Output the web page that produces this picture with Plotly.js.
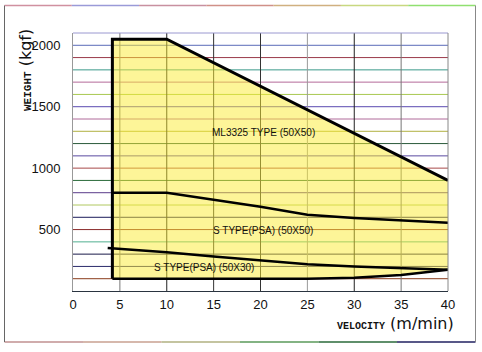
<!DOCTYPE html>
<html><head><meta charset="utf-8">
<script src="https://cdn.plot.ly/plotly-3.0.1.min.js"></script>
<style>html,body{margin:0;padding:0;background:#fff}#chart{width:482px;height:352px}</style>
</head><body><div id="chart"></div>
<script>
// ---- data ----
const xTickVals = [0, 5, 10, 15, 20, 25, 30, 35, 40];
const xTickText = ['0', '5', '10', '15', '20', '25', '30', '35', '40'];
const yTickVals = [500, 1000, 1500, 2000];
const yTickText = ['500', '1000', '1500', '2000'];

const ml3325X = [4.2, 4.2, 10, 40];
const ml3325Y = [100, 2050, 2050, 900];

const s5050X = [4.2, 10, 20, 25, 30, 40];
const s5050Y = [800, 800, 685, 620, 595, 555];

const s5030UpperX = [3.7, 10, 15, 20, 25, 30, 35, 40];
const s5030UpperY = [350, 315, 280, 248, 218, 200, 187, 173];

const s5030LowerX = [4.2, 25, 30, 35, 40];
const s5030LowerY = [100, 100, 108, 130, 173];

const curveLabels = ['ML3325 TYPE (50X50)', 'S TYPE(PSA) (50X50)', 'S TYPE(PSA) (50X30)'];

// ---- layout helpers ----
const W = 482, H = 352, L = 73, R = 34, T = 33, B = 61;
const pw = W - L - R, ph = H - T - B;
const px2x = p => (p - L) / pw;
const py2y = p => (H - B - p) / ph;

const envX = ml3325X.concat(s5030LowerX.slice().reverse());
const envY = ml3325Y.concat(s5030LowerY.slice().reverse());

const traces = [
  {x: envX, y: envY, mode: 'lines', fill: 'toself', fillcolor: 'rgba(252,236,50,0.5)',
   line: {width: 0}, hoverinfo: 'skip', showlegend: false},
  {x: ml3325X, y: ml3325Y, mode: 'lines', line: {color: '#000', width: 3}, showlegend: false},
  {x: s5050X, y: s5050Y, mode: 'lines', line: {color: '#000', width: 2.5}, showlegend: false},
  {x: s5030UpperX, y: s5030UpperY, mode: 'lines', line: {color: '#000', width: 2.5}, showlegend: false},
  {x: s5030LowerX, y: s5030LowerY, mode: 'lines', line: {color: '#000', width: 2.5}, showlegend: false}
];

// horizontal grid every 100 kgf, scanned colours (top 2000 -> bottom 100)
const hGridColors = ['#5a6ab8','#9a3a4a','#3a9a8a','#b46a9a','#a8c850','#5a4ab0','#b06a9a','#b0b040',
  '#2a5a3a','#5a4aa0','#a84a4a','#2a6a3a','#5a3a8a','#b0c860','#1a1a5a','#8a2a2a','#50b090',
  '#1a1a4a','#2a2a6a','#8a3a1a'];
const shapes = [];
hGridColors.forEach((c, i) => {
  const v = 2000 - i * 100;
  shapes.push({type: 'line', layer: 'below', xref: 'paper', yref: 'y', x0: 0, x1: 1, y0: v, y1: v,
    line: {color: c, width: 1}});
});
const vGridColors = ['#777', '#222', '#333', '#333', '#999', '#222', '#777'];
vGridColors.forEach((c, i) => {
  const v = xTickVals[i + 1];
  shapes.push({type: 'line', layer: 'below', xref: 'x', yref: 'paper', x0: v, x1: v, y0: 0, y1: 1,
    line: {color: c, width: 1}});
});
// plot frame top / right
shapes.push({type: 'line', xref: 'paper', yref: 'paper', x0: 0, x1: 1, y0: 1, y1: 1, line: {color: '#9a98d0', width: 1}});
shapes.push({type: 'line', xref: 'paper', yref: 'paper', x0: 1, x1: 1, y0: 0, y1: 1, line: {color: '#888', width: 1}});
// outer scanned frame
const fx0 = px2x(4.5), fx1 = px2x(475.5), fy0 = py2y(342), fy1 = py2y(5.5);
const topCols = ['#d090a0', '#9a9ad8', '#c890a0', '#d09088', '#d0b080', '#c8d880', '#90e070'];
topCols.forEach((c, i) => {
  const a = fx0 + (fx1 - fx0) * i / topCols.length, b = fx0 + (fx1 - fx0) * (i + 1) / topCols.length;
  shapes.push({type: 'line', xref: 'paper', yref: 'paper', x0: a, x1: b, y0: fy1, y1: fy1, line: {color: c, width: 1.5}});
});
const botCols = ['#c09090', '#c8a090', '#b0b080', '#5a9a5a', '#2a6a3a', '#202060'];
botCols.forEach((c, i) => {
  const a = fx0 + (fx1 - fx0) * i / botCols.length, b = fx0 + (fx1 - fx0) * (i + 1) / botCols.length;
  shapes.push({type: 'line', xref: 'paper', yref: 'paper', x0: a, x1: b, y0: fy0, y1: fy0, line: {color: c, width: 1.5}});
});
shapes.push({type: 'line', xref: 'paper', yref: 'paper', x0: fx0, x1: fx0, y0: fy0, y1: fy1, line: {color: '#666', width: 1}});
shapes.push({type: 'line', xref: 'paper', yref: 'paper', x0: fx1, x1: fx1, y0: fy0, y1: fy1, line: {color: '#888', width: 1}});

const lblFont = {family: 'Liberation Sans, Arial, sans-serif', size: 10, color: '#111'};
const annotations = [
  {text: curveLabels[0], x: 20.35, y: 1290, xref: 'x', yref: 'y', showarrow: false, font: lblFont},
  {text: curveLabels[1], x: 20.3, y: 495, xref: 'x', yref: 'y', showarrow: false, font: lblFont},
  {text: curveLabels[2], x: 14.0, y: 195, xref: 'x', yref: 'y', showarrow: false, font: lblFont},
  {text: '<b><span style="font-family:Liberation Mono;font-size:11px">WEIGHT</span></b> (kgf)',
   x: px2x(25), y: py2y(70), xref: 'paper', yref: 'paper', textangle: -90, showarrow: false,
   xanchor: 'center', yanchor: 'middle', font: {family: 'DejaVu Sans, sans-serif', size: 16, color: '#111'}},
  {text: '<b><span style="font-family:Liberation Mono;font-size:10px">VELOCITY</span></b> (m/min)',
   x: px2x(395), y: py2y(323), xref: 'paper', yref: 'paper', showarrow: false,
   xanchor: 'center', yanchor: 'middle', font: {family: 'DejaVu Sans, sans-serif', size: 16, color: '#111'}}
];

const tickFont = {family: 'Liberation Sans, Arial, sans-serif', size: 13, color: '#111'};
const layout = {
  width: W, height: H,
  margin: {l: L, r: R, t: T, b: B, pad: 0},
  paper_bgcolor: '#fff', plot_bgcolor: '#fff',
  showlegend: false,
  xaxis: {range: [0, 40], tickvals: xTickVals, ticktext: xTickText, showgrid: false, zeroline: false,
    showline: true, linecolor: '#2a3440', linewidth: 1, ticks: '', tickfont: tickFont, ticklabelstandoff: 1, fixedrange: true},
  yaxis: {range: [0, 2100], tickvals: yTickVals, ticktext: yTickText, showgrid: false, zeroline: false,
    showline: true, linecolor: '#999', linewidth: 1, ticks: '', tickfont: tickFont, ticklabelstandoff: 9, fixedrange: true},
  shapes: shapes,
  annotations: annotations
};
Plotly.newPlot('chart', traces, layout, {staticPlot: true, displayModeBar: false});
</script>
</body></html>
